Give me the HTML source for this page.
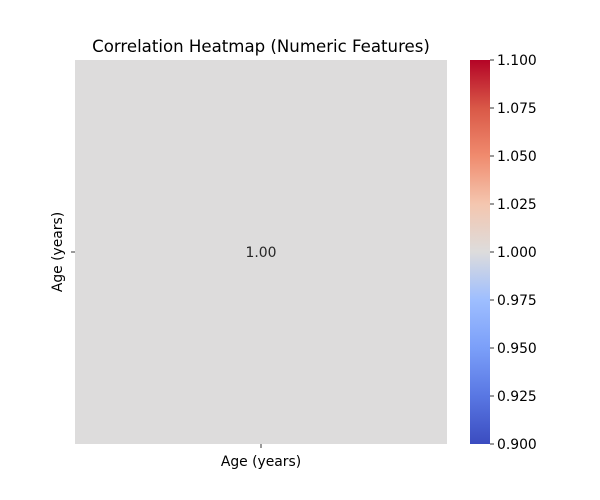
<!DOCTYPE html>
<html><head><meta charset="utf-8"><style>
body{margin:0;background:#fff}
svg{display:block;font-family:"DejaVu Sans","Liberation Sans",sans-serif}
</style></head><body>
<svg id="chart" width="600" height="500">
<defs>
<linearGradient id="cw" x1="0" y1="1" x2="0" y2="0">
<stop offset="0" stop-color="#3b4cc0"/>
<stop offset="0.125" stop-color="#5977e3"/>
<stop offset="0.25" stop-color="#7b9ff9"/>
<stop offset="0.375" stop-color="#9ebeff"/>
<stop offset="0.5" stop-color="#dddcdc"/>
<stop offset="0.625" stop-color="#f4c6af"/>
<stop offset="0.75" stop-color="#f08b6e"/>
<stop offset="0.875" stop-color="#d95847"/>
<stop offset="1" stop-color="#b40426"/>
</linearGradient>
</defs>
<text x="261" y="52" font-size="16.6" text-anchor="middle" fill="#000">Correlation Heatmap (Numeric Features)</text>
<g id="cells"></g>
<g id="cbar"></g>
</svg>
<script>
const labels = ["Age (years)"];
const values = [[1.0]];
const cbTicks = [0.900,0.925,0.950,0.975,1.000,1.025,1.050,1.075,1.100];
const vmin = 0.9, vmax = 1.1;

const NS="http://www.w3.org/2000/svg";
function mk(t,a,p){const e=document.createElementNS(NS,t);for(const k in a)e.setAttribute(k,a[k]);p.appendChild(e);return e;}
const L=75,R=447,T=60,B=444;
const n=labels.length, cw=(R-L)/n, ch=(B-T)/n;
const svg=document.getElementById('chart');
const cells=document.getElementById('cells');
function cmap(v){
  const stops=[[59,76,192],[89,119,227],[123,159,249],[158,190,255],[221,220,220],[244,198,175],[240,139,110],[217,88,71],[180,4,38]];
  let t=Math.max(0,Math.min(1,(v-vmin)/(vmax-vmin)))*(stops.length-1);
  const i=Math.min(Math.floor(t),stops.length-2),f=t-i;
  const c=stops[i].map((x,j)=>Math.round(x+(stops[i+1][j]-x)*f));
  return `rgb(${c[0]},${c[1]},${c[2]})`;
}
values.forEach((row,i)=>row.forEach((v,j)=>{
  const r=mk('rect',{x:L+j*cw,y:T+i*ch,width:cw,height:ch,fill:cmap(v)},cells);
  
  
  const t=mk('text',{x:L+j*cw+cw/2,y:T+i*ch+ch/2+5,'font-size':13.9,'text-anchor':'middle',fill:'#262626'},cells);
  t.textContent=v.toFixed(2);
  
  
}));
labels.forEach((lab,i)=>{
  const x=L+i*cw+cw/2;
  mk('line',{x1:x,x2:x,y1:B,y2:B+4,stroke:'#000','stroke-width':0.8},svg);
  const t=mk('text',{x:x,y:B+22,'font-size':13.9,'text-anchor':'middle'},svg);
  t.textContent=lab;
  
  
  const y=T+i*ch+ch/2;
  mk('line',{x1:L-4,x2:L,y1:y,y2:y,stroke:'#000','stroke-width':0.8},svg);
  const t2=mk('text',{x:0,y:0,'font-size':13.9,'text-anchor':'middle',transform:`translate(62,${y}) rotate(-90)`},svg);
  t2.textContent=lab;
  
  
});
const cb=document.getElementById('cbar');
const CX=470,CW=20;
const bar=mk('rect',{x:CX,y:T,width:CW,height:B-T,fill:'url(#cw)'},cb);


cbTicks.forEach(v=>{
  const y=B-(v-vmin)/(vmax-vmin)*(B-T);
  mk('line',{x1:CX+CW,x2:CX+CW+4,y1:y,y2:y,stroke:'#000','stroke-width':0.8},cb);
  const t=mk('text',{x:CX+CW+7,y:y+5,'font-size':13.9},cb);
  t.textContent=v.toFixed(3);
  
  
});
</script>
</body></html>
